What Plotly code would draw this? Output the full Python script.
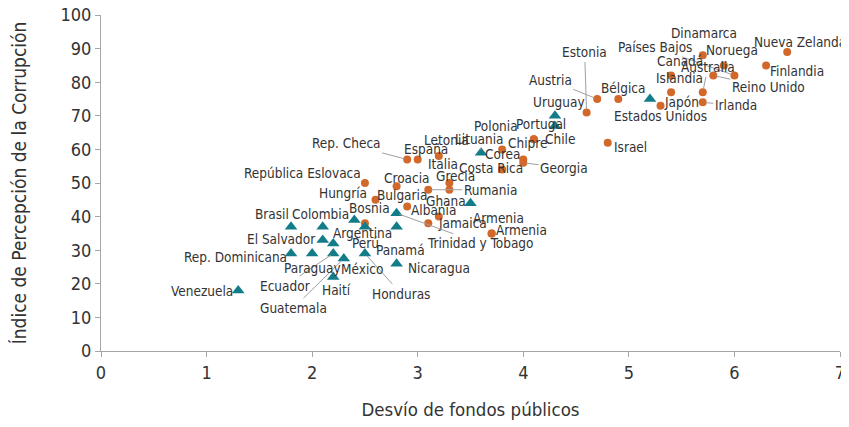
import plotly.graph_objects as go

# ---- data ----
circle_names = ["Nueva Zelanda", "Finlandia", "Dinamarca", "Noruega", "Países Bajos", "Reino Unido",
                "Australia", "Irlanda", "Canadá", "Islandia", "Japón", "Bélgica", "Austria", "Estonia",
                "Israel", "Portugal", "Polonia", "Chipre", "Corea", "Georgia", "Costa Rica", "Letonia",
                "Rep. Checa", "España", "Italia", "Grecia", "Rumania", "Croacia", "República Eslovaca",
                "Hungría", "Bulgaria", "Albania", "Jamaica", "Armenia", "Armenia", "Bosnia"]
circle_x = [6.5, 6.3, 5.7, 5.9, 6.0, 5.8, 5.7, 5.7, 5.4, 5.4, 5.3, 4.9, 4.7, 4.6,
            4.8, 4.1, 4.1, 3.8, 4.0, 4.0, 3.8, 3.2, 2.9, 3.0, 3.3, 3.3, 3.1, 2.8, 2.5,
            2.6, 2.9, 3.2, 3.1, 3.7, 3.7, 2.5]
circle_y = [89, 85, 88, 85, 82, 82, 77, 74, 82, 77, 73, 75, 75, 71,
            62, 63, 63, 60, 57, 56, 54, 58, 57, 57, 50, 48, 48, 49, 50,
            45, 43, 40, 38, 35, 35, 38]

tri_names = ["Estados Unidos", "Uruguay", "Chile", "Lituania", "Ghana", "Trinidad y Tobago", "Panamá",
             "Nicaragua", "Argentina", "Perú", "Honduras", "Guatemala", "México", "Ecuador", "Paraguay",
             "Haití", "Colombia", "Brasil", "El Salvador", "Rep. Dominicana", "Venezuela"]
tri_x = [5.2, 4.3, 4.3, 3.6, 3.5, 2.8, 2.8, 2.8, 2.4, 2.5, 2.5, 2.3, 2.2, 2.2, 2.0,
         2.2, 2.1, 1.8, 2.1, 1.8, 1.3]
tri_y = [75, 70, 67, 59, 44, 41, 37, 26, 39, 37, 29, 27.5, 32, 29, 29,
         22, 37, 37, 33, 29, 18]

x_ticks = [0, 1, 2, 3, 4, 5, 6, 7]
y_ticks = [0, 10, 20, 30, 40, 50, 60, 70, 80, 90, 100]
x_title = "Desvío de fondos públicos"
y_title = "Índice de Percepción de la Corrupción"

# ---- label placement (pixel offsets of label centre from point; leader line flag) ----
circle_label_style = [(13, -10, 0), (31, 6, 0), (1, -22, 0), (8, -15, 0), (-79, -28, 1), (55, 12, 1),
                      (5, -25, 1), (33, 3, 1), (9, -14, 0), (8, -14, 0), (21, -4, 0), (5, -11, 0),
                      (-47, -19, 1), (-2, -60, 1), (23, 4, 0), (7, -15, 0), (-38, -13, 0), (25, -6, 1),
                      (-20, -5, 0), (41, 5, 1), (-11, -2, 0), (8, -16, 0), (-61, -16, 1), (8, -10, 0),
                      (-6, -19, 0), (6, -14, 0), (62, 0, 1), (10, -8, 0), (-62, -10, 1), (-32, -7, 0),
                      (-5, -12, 0), (-5, -7, 0), (34, 0, 0), (7, -15, 0), (30, -3, 0), (5, -15, 0)]
tri_label_style = [(11, 17, 0), (4, -14, 0), (5, 13, 0), (-2, -14, 1), (-25, -2, 0), (83, 30, 1),
                   (4, 23, 0), (42, 4, 0), (8, 13, 0), (1, 16, 0), (36, 40, 1), (-50, 49, 1),
                   (29, 26, 0), (-48, 32, 1), (0, 14, 0), (3, 13, 0), (-2, -13, 0), (-19, -13, 0),
                   (-42, -1, 0), (-56, 3, 0), (-36, 0, 0)]

FONT = "DejaVu Sans Condensed, Liberation Sans Narrow, sans-serif"
ORANGE = "#D2692A"
TEAL = "#137C89"
TXT = "#333333"
AXIS = "#A6A6A6"

fig = go.Figure()
fig.add_trace(go.Scatter(x=circle_x, y=circle_y, mode="markers",
                         marker=dict(symbol="circle", size=8, color=ORANGE),
                         text=circle_names, hoverinfo="text", showlegend=False, cliponaxis=False))
fig.add_trace(go.Scatter(x=tri_x, y=tri_y, mode="markers",
                         marker=dict(symbol="triangle-up", size=11, color=TEAL),
                         text=tri_names, hoverinfo="text", showlegend=False, cliponaxis=False))

annotations = []
for names, xs, ys, styles in [(circle_names, circle_x, circle_y, circle_label_style),
                              (tri_names, tri_x, tri_y, tri_label_style)]:
    for n, xv, yv, (dx, dy, lead) in zip(names, xs, ys, styles):
        if lead:
            annotations.append(dict(x=xv, y=yv, xref="x", yref="y", text=n, showarrow=True,
                                    ax=dx, ay=dy, arrowhead=0, arrowwidth=1, arrowcolor="#A0A0A0",
                                    standoff=3, font=dict(family=FONT, size=13.5, color=TXT)))
        else:
            annotations.append(dict(x=xv, y=yv, xref="x", yref="y", text=n, showarrow=False,
                                    xshift=dx, yshift=-dy,
                                    font=dict(family=FONT, size=13.5, color=TXT)))

# the page body adds an 8px margin, so the figure is sized to fit the 849x427 window
fig.update_layout(
    width=841, height=419,
    margin=dict(l=93, r=9, t=7, b=76, autoexpand=False),
    paper_bgcolor="white", plot_bgcolor="white",
    font=dict(family=FONT, color=TXT),
    annotations=annotations,
    xaxis=dict(range=[0, 7], tickvals=x_ticks, showgrid=False, zeroline=False, automargin=False,
               showline=True, linecolor=AXIS, linewidth=1, ticks="outside", ticklen=5,
               tickcolor=AXIS, tickfont=dict(size=18, color=TXT), ticklabeloverflow="allow",
               title=dict(text=x_title, font=dict(size=18.5, color=TXT), standoff=21)),
    yaxis=dict(range=[0, 100], tickvals=y_ticks, showgrid=False, zeroline=False, automargin=False,
               showline=True, linecolor=AXIS, linewidth=1, ticks="outside", ticklen=5,
               tickcolor=AXIS, tickfont=dict(size=18, color=TXT), ticklabeloverflow="allow",
               title=dict(text=y_title, font=dict(size=19, color=TXT), standoff=36)),
)

fig.write_html("out.html")
